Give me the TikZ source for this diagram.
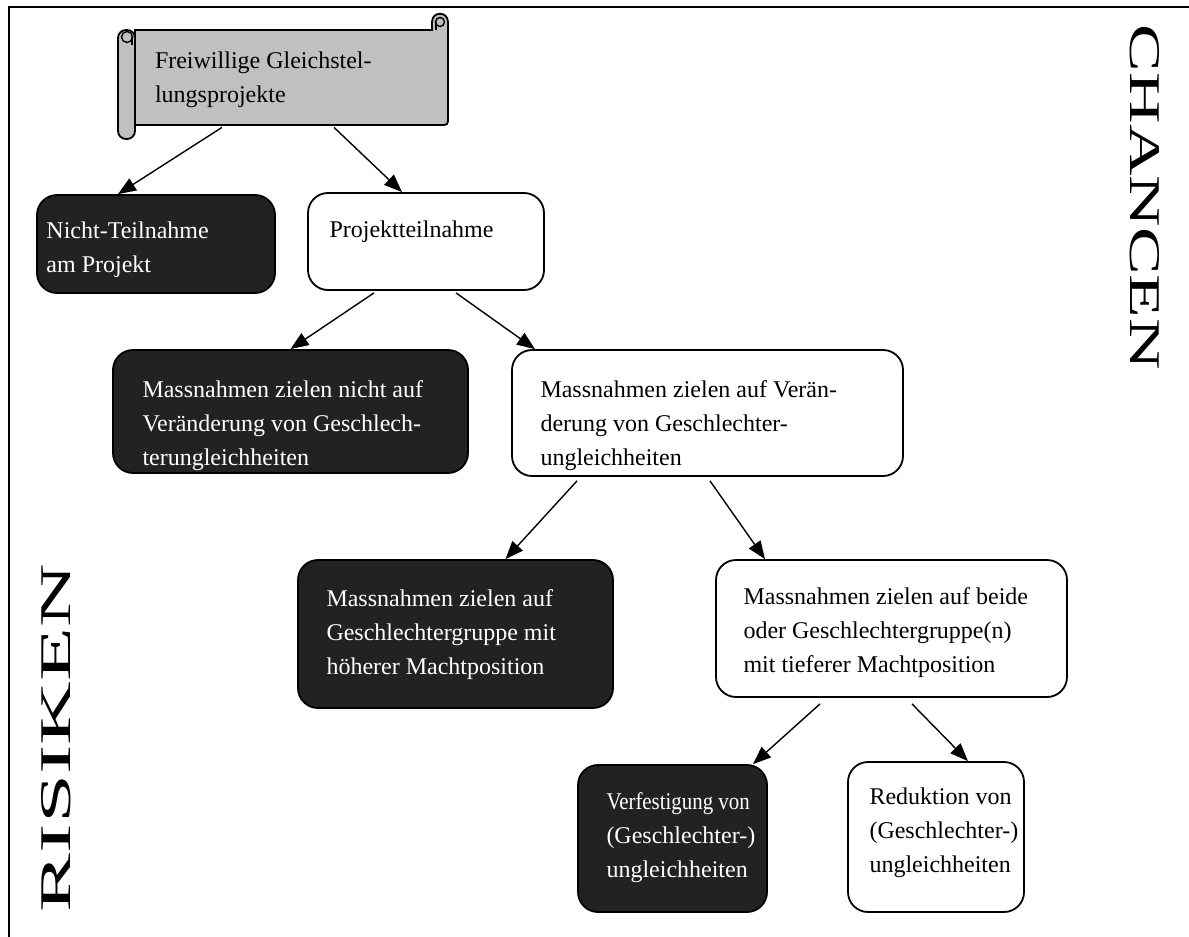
\documentclass[tikz,border=0pt]{standalone}
\usepackage{fontspec}
\setmainfont{Liberation Serif}
\usepackage{graphicx}
\usetikzlibrary{arrows.meta,calc,positioning}

\definecolor{boxdark}{HTML}{222222}
\definecolor{scrollgray}{HTML}{C0C0C0}

\tikzset{
  darkbox/.style={draw=black, fill=boxdark, rounded corners=10pt, line width=0.9pt, inner sep=0pt},
  lightbox/.style={draw=black, fill=white, rounded corners=10pt, line width=0.9pt, inner sep=0pt},
  boxtext/.style={anchor=north west, inner sep=0pt, align=left, font=\fontsize{12}{17}\selectfont},
  pfeil/.style={-{Triangle[length=9pt,width=7pt]}, line width=0.7pt},
  scrollpart/.style={draw=black, fill=scrollgray, line width=0.9pt},
}

\begin{document}
\begin{tikzpicture}[x=0.5pt, y=-0.5pt]
    \useasboundingbox (0,0) rectangle (1189,937);

    % frame
    \draw[line width=0.8pt] (9,937) -- (9,7) -- (1189,7);

    % the scroll
    \filldraw[scrollpart] (135,30) -- (432,30) -- (432,22)
        .. controls (432,11) and (448,11) .. (448,22) -- (448,117)
        .. controls (448,125) .. (440,125) -- (135,125) -- cycle;
    \filldraw[scrollpart, line width=0.7pt] (440,22) circle (4.5);
    \draw[line width=0.7pt] (436,22) -- (436,30);
    \filldraw[scrollpart, rounded corners=4pt] (118,30) rectangle (135,139);
    \filldraw[scrollpart, line width=0.7pt] (127,37) circle (5.5);
    \draw[line width=0.7pt] (132,37) -- (132,45);
    \node[minimum width=160.5pt, minimum height=47.5pt] (scroll) at (287.5,77.5) {};
    \node[boxtext] (scroll-txt) at ($(scroll.north west)+(28,22)$)
        {Freiwillige Gleichstel-\\lungsprojekte};

    % the boxes
    \node[darkbox, minimum width=119pt, minimum height=49pt] (nicht) at (156,244) {};
    \node[lightbox, minimum width=118pt, minimum height=48.5pt] (proj) at (426,241.5) {};
    \node[darkbox, minimum width=177.5pt, minimum height=61.5pt] (mnicht) at (290.5,411.5) {};
    \node[lightbox, minimum width=195.5pt, minimum height=63pt] (mauf) at (707.5,413) {};
    \node[darkbox, minimum width=157.5pt, minimum height=74pt] (hoeher) at (455.5,634) {};
    \node[lightbox, minimum width=175.5pt, minimum height=68.5pt] (beide) at (891.5,628.5) {};
    \node[darkbox, minimum width=94.5pt, minimum height=73.5pt] (verf) at (672.5,838.5) {};
    \node[lightbox, minimum width=88pt, minimum height=75pt] (red) at (936,837) {};

    % the texts
    \node[boxtext, text=white] (nicht-txt) at ($(nicht.north west)+(10,27)$)
        {Nicht-Teilnahme\\am Projekt};
    \node[boxtext] (proj-txt) at ($(proj.north west)+(22,28)$) {Projektteilnahme};
    \node[boxtext, text=white] (mnicht-txt) at ($(mnicht.north west)+(30,31)$)
        {Massnahmen zielen nicht auf\\Veränderung von Geschlech-\\terungleichheiten};
    \node[boxtext] (mauf-txt) at ($(mauf.north west)+(29,31)$)
        {Massnahmen zielen auf Verän-\\derung von Geschlechter-\\ungleichheiten};
    \node[boxtext, text=white] (hoeher-txt) at ($(hoeher.north west)+(29,30)$)
        {Massnahmen zielen auf\\Geschlechtergruppe mit\\höherer Machtposition};
    \node[boxtext] (beide-txt) at ($(beide.north west)+(28,28)$)
        {Massnahmen zielen auf beide\\oder Geschlechtergruppe(n)\\mit tieferer Machtposition};
    \node[boxtext, text=white] (verf-txt) at ($(verf.north west)+(29,28)$)
        {\scalebox{0.87}[1]{Verfestigung von}\\(Geschlechter-)\\ungleichheiten};
    \node[boxtext] (red-txt) at ($(red.north west)+(22,26)$)
        {Reduktion von\\(Geschlechter-)\\ungleichheiten};

    % the side words
    \node[rotate=-90, inner sep=0pt] (chancen) at (1145,197.5)
        {\resizebox{172.5pt}{14.5pt}{CHANCEN}};
    \node[rotate=90, inner sep=0pt] (risiken) at (56,738)
        {\resizebox{174pt}{14.5pt}{RISIKEN}};

    % draw the arrows
    \draw[pfeil] ($(scroll.south)+(-65.5,2)$) -- ($(nicht.north)+(-38,0)$);
    \draw[pfeil] ($(scroll.south)+(46.5,2)$) -- ($(proj.north)+(-24,0)$);
    \draw[pfeil] ($(proj.south)+(-52,2)$) -- (mnicht.north);
    \draw[pfeil] ($(proj.south)+(30,2)$) -- ($(mauf.north)+(-172.5,0)$);
    \draw[pfeil] ($(mauf.south)+(-130.5,4)$) -- ($(hoeher.north)+(50,0)$);
    \draw[pfeil] ($(mauf.south)+(2.5,4)$) -- ($(beide.north)+(-126.5,0)$);
    \draw[pfeil] ($(beide.south)+(-71.5,6)$) -- ($(verf.north)+(80.5,0)$);
    \draw[pfeil] ($(beide.south)+(20.5,6)$) -- ($(red.north)+(32,0)$);
\end{tikzpicture}
\end{document}
